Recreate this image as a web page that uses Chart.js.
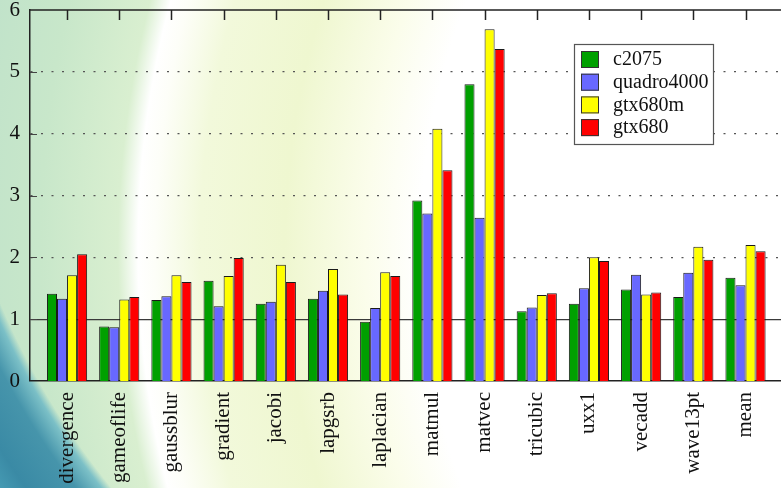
<!DOCTYPE html>
<html>
<head>
<meta charset="utf-8">
<script src="https://cdn.jsdelivr.net/npm/chart.js@4.4.1/dist/chart.umd.min.js"></script>
<style>
  html, body { margin: 0; padding: 0; }
  #wrap {
    position: relative;
    width: 781px;
    height: 488px;
    overflow: hidden;
    background:
      radial-gradient(circle at 702px 6px, rgba(0,0,0,0) 0, rgba(0,0,0,0) 762px, rgba(110,185,198,0.85) 770px, rgba(66,146,170,0.97) 790px, rgba(58,138,165,1) 830px, rgba(95,190,210,1) 900px),
      radial-gradient(circle at 1100px 250px, #ffffff 0, #ffffff 680px, #fbfdeb 735px, #eff7d0 815px, #f2f9db 900px, #fdfef8 945px, #ffffff 962px, #d9efd0 982px, #c8e7ca 1060px, #badfca 1200px);
  }
  canvas { display: block; }
</style>
</head>
<body>
<div id="wrap"><canvas id="c" width="781" height="488"></canvas></div>
<script>
const categories = ["divergence", "gameoflife", "gaussblur", "gradient", "jacobi", "lapgsrb", "laplacian",
                    "matmul", "matvec", "tricubic", "uxx1", "vecadd", "wave13pt", "mean"];
const c2075      = [1.41, 0.88, 1.31, 1.62, 1.25, 1.33, 0.96, 2.92, 4.80, 1.13, 1.25, 1.48, 1.36, 1.67];
const quadro4000 = [1.33, 0.87, 1.37, 1.21, 1.28, 1.46, 1.18, 2.71, 2.64, 1.19, 1.50, 1.72, 1.75, 1.55];
const gtx680m    = [1.71, 1.32, 1.71, 1.70, 1.88, 1.81, 1.76, 4.08, 5.69, 1.39, 2.00, 1.40, 2.17, 2.20];
const gtx680     = [2.05, 1.36, 1.60, 1.99, 1.60, 1.40, 1.70, 3.41, 5.37, 1.42, 1.94, 1.43, 1.96, 2.10];
const yTicks     = [0, 1, 2, 3, 4, 5, 6];

const serif = "'Liberation Serif', 'DejaVu Serif', serif";
const ink = '#111111';

const series = [
  { label: 'c2075',      values: c2075,      color: '#00a000' },
  { label: 'quadro4000', values: quadro4000, color: '#6868ff' },
  { label: 'gtx680m',    values: gtx680m,    color: '#ffff00' },
  { label: 'gtx680',     values: gtx680,     color: '#ff0000' }
];

// Frame decorations: top border with mirrored ticks, inner y ticks, boxed key.
const framePlugin = {
  id: 'frame',
  afterDatasetsDraw(chart) {
    const { ctx, chartArea: a, scales: { x, y } } = chart;
    ctx.save();
    ctx.strokeStyle = '#222';
    ctx.lineWidth = 1.5;
    ctx.beginPath();
    ctx.moveTo(a.left, a.top);
    ctx.lineTo(a.right, a.top);
    categories.forEach((_, i) => {
      const px = Math.round(x.getPixelForValue(i)) + 0.5;
      ctx.moveTo(px, a.top);
      ctx.lineTo(px, a.top + 10);
    });
    ctx.stroke();

    ctx.lineWidth = 1;
    ctx.strokeStyle = '#444';
    ctx.beginPath();
    yTicks.slice(1, -1).forEach(v => {
      const py = Math.round(y.getPixelForValue(v)) + 0.5;
      ctx.moveTo(a.left, py);
      ctx.lineTo(a.left + 7, py);
    });
    ctx.stroke();

    // key
    const bx = 574, by = 44, bw = 139, bh = 100;
    ctx.fillStyle = '#ffffff';
    ctx.fillRect(bx, by, bw, bh);
    ctx.strokeStyle = '#555';
    ctx.lineWidth = 1.2;
    ctx.strokeRect(bx + 0.5, by + 0.5, bw, bh);
    ctx.font = '20px ' + serif;
    ctx.textBaseline = 'middle';
    ctx.textAlign = 'left';
    chart.data.datasets.forEach((ds, i) => {
      const sy = by + 7 + i * 22.7;
      ctx.fillStyle = ds.backgroundColor;
      ctx.fillRect(bx + 7, sy, 18, 17);
      ctx.strokeStyle = '#333';
      ctx.lineWidth = 1;
      ctx.strokeRect(bx + 7.5, sy + 0.5, 17, 16);
      ctx.fillStyle = ink;
      ctx.fillText(ds.label, bx + 39, sy + 9);
    });
    ctx.restore();
  }
};

new Chart(document.getElementById('c'), {
  type: 'bar',
  data: {
    datasets: series.map(s => ({
      label: s.label,
      data: s.values.map((v, i) => ({ x: i, y: v })),
      backgroundColor: s.color,
      borderColor: '#1a1a1a',
      borderWidth: 1,
      borderSkipped: 'bottom',
      categoryPercentage: 0.77,
      barPercentage: 1.0
    }))
  },
  options: {
    responsive: false,
    animation: false,
    layout: { padding: { top: 10, right: 0, left: 0, bottom: 0 } },
    plugins: { legend: { display: false }, tooltip: { enabled: false } },
    scales: {
      x: {
        type: 'linear',
        offset: false,
        min: -0.71,
        max: 13.68,
        afterBuildTicks: s => { s.ticks = categories.map((_, i) => ({ value: i })); },
        afterFit: s => { s.height = 107; s.paddingLeft = 0; s.paddingRight = 0; },
        ticks: {
          autoSkip: false,
          minRotation: 90,
          maxRotation: 90,
          padding: 3,
          color: ink,
          font: { family: serif, size: 21 },
          callback: v => categories[v]
        },
        grid: { display: false, offset: false },
        border: { display: true, color: '#222', width: 1.5 }
      },
      y: {
        min: 0,
        max: 6,
        afterBuildTicks: s => { s.ticks = yTicks.map(v => ({ value: v })); },
        afterFit: s => { s.width = 30; s.paddingTop = 0; s.paddingBottom = 0; },
        ticks: {
          padding: 10,
          color: ink,
          font: { family: serif, size: 21 }
        },
        grid: {
          drawTicks: false,
          lineWidth: ctx => (ctx.tick && ctx.tick.value > 0 && ctx.tick.value < 6) ? 1.2 : 0,
          color: ctx => (ctx.tick && ctx.tick.value === 1) ? '#3a3a3a' : '#555'
        },
        border: {
          display: true,
          color: '#222',
          width: 1.5,
          dash: ctx => (ctx.tick && ctx.tick.value >= 2 && ctx.tick.value <= 5) ? [2, 8.5] : []
        }
      }
    }
  },
  plugins: [framePlugin]
});
</script>
</body>
</html>
